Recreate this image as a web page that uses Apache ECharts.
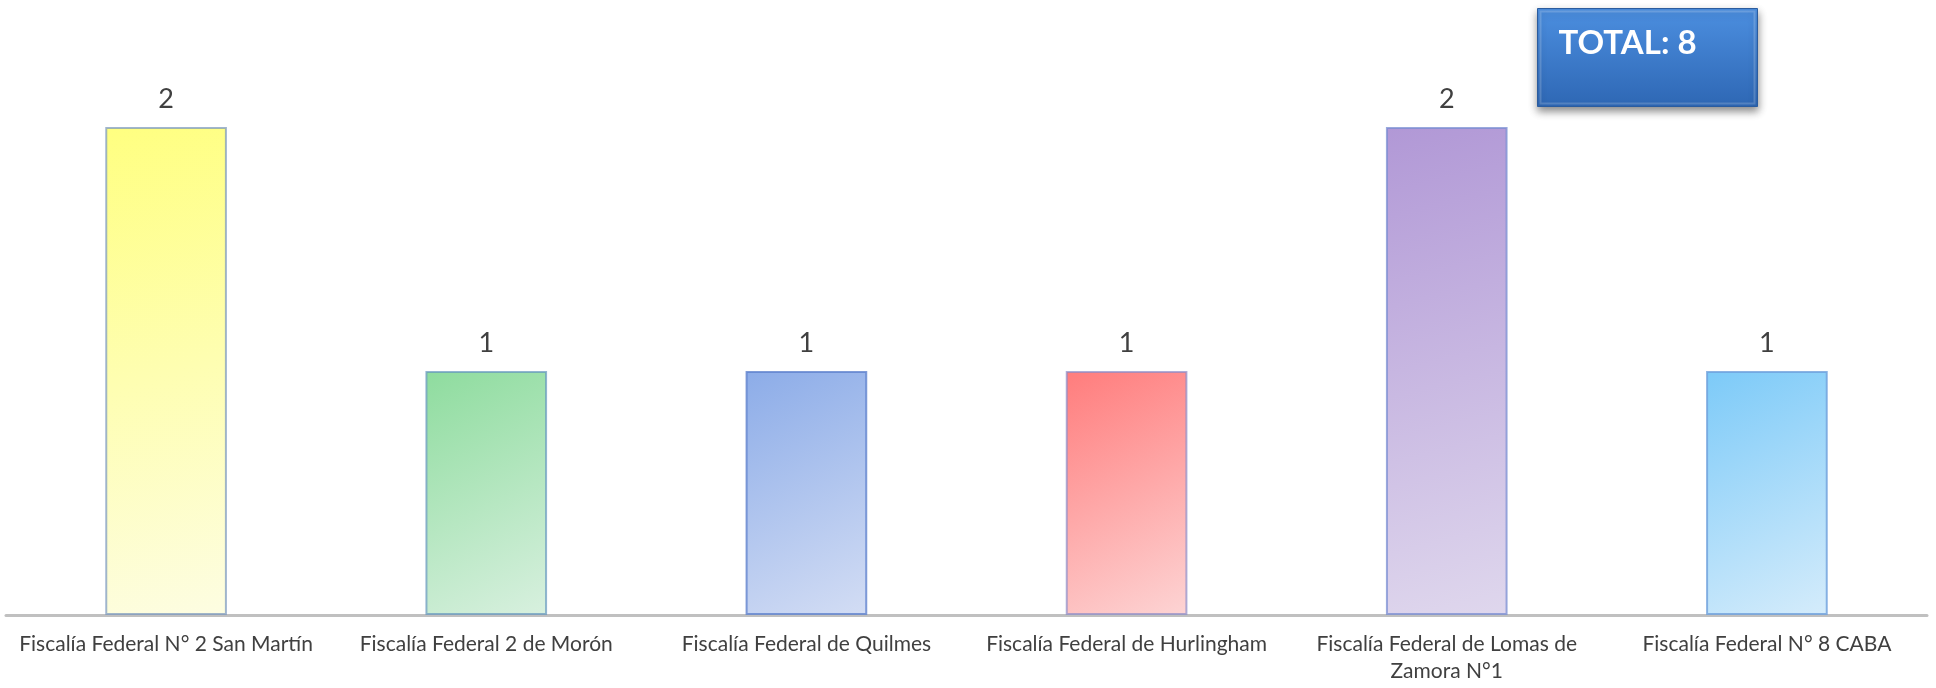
<!DOCTYPE html>
<html>
<head>
<meta charset="utf-8">
<title>Fiscalías</title>
<script src="https://cdn.jsdelivr.net/npm/echarts@6/dist/echarts.min.js"></script>
<style>
  html, body { margin: 0; padding: 0; background: #fff; }
  #chart { width: 1936px; height: 688px; }
</style>
</head>
<body>
<div id="chart"></div>
<script>
const categories = [
  "Fiscalía Federal N° 2 San Martín",
  "Fiscalía Federal 2 de Morón",
  "Fiscalía Federal de Quilmes",
  "Fiscalía Federal de Hurlingham",
  "Fiscalía Federal de Lomas de Zamora N°1",
  "Fiscalía Federal N° 8 CABA",
];
const values = [2, 1, 1, 1, 2, 1];
// top-left colour, bottom-right colour, edge glow
const barColors = [
  ["#ffff80", "#fdfde2", "rgba(120,150,190,0.7)"],
  ["#8edc9e", "#d8f0df", "rgba(100,150,190,0.7)"],
  ["#8cace8", "#d3ddf4", "rgba(95,130,205,0.8)"],
  ["#ff7c7c", "#fdd4d4", "rgba(140,140,200,0.7)"],
  ["#b198d6", "#dfd7ed", "rgba(120,140,210,0.75)"],
  ["#7ccaf8", "#d5ecfb", "rgba(110,160,220,0.8)"],
];
const total = values.reduce((a, b) => a + b, 0);

// wrap long names by words, like the spreadsheet does
function wrap(name, max) {
  const lines = [];
  let cur = "";
  name.split(" ").forEach((w) => {
    if (cur && (cur + " " + w).length > max) {
      lines.push(cur);
      cur = w;
    } else {
      cur = cur ? cur + " " + w : w;
    }
  });
  lines.push(cur);
  return lines.join("\n");
}

const chart = echarts.init(document.getElementById("chart"));
let option = {
  backgroundColor: "#ffffff",
  textStyle: { fontFamily: "Lato" },
  grid: {
    left: 6,
    right: 9,
    top: 127,
    bottom: 73,
  },
  xAxis: {
    type: "category",
    data: categories,
    axisLine: { lineStyle: { color: "#c0c0c0", width: 3 } },
    axisTick: { show: false },
    axisLabel: {
      interval: 0,
      color: "#404040",
      fontSize: 21,
      lineHeight: 27,
      margin: 16,
      hideOverlap: false,
      formatter: (v) => wrap(v, 33),
    },
  },
  yAxis: {
    type: "value",
    min: 0,
    max: 2,
    show: false,
    splitLine: { show: false },
  },
  series: [
    {
      type: "bar",
      barWidth: "38%",
      data: values.map((v, i) => ({
        value: v,
        itemStyle: {
          color: new echarts.graphic.LinearGradient(0, 0, 1, 1, [
            { offset: 0, color: barColors[i][0] },
            { offset: 1, color: barColors[i][1] },
          ]),
          borderColor: barColors[i][2],
          borderWidth: 2,
        },
      })),
      label: {
        show: true,
        position: "top",
        distance: 14,
        color: "#404040",
        fontSize: 27,
      },
    },
  ],
  graphic: [
    {
      type: "group",
      left: 1537,
      top: 8,
      children: [
        {
          type: "rect",
          shape: { x: 0, y: 0, width: 220, height: 98 },
          style: {
            fill: new echarts.graphic.LinearGradient(0, 0, 0, 1, [
              { offset: 0, color: "#4c8fe0" },
              { offset: 1, color: "#2e67b4" },
            ]),
            stroke: "#2b5c9e",
            lineWidth: 1,
            shadowBlur: 8,
            shadowOffsetY: 4,
            shadowColor: "rgba(0,0,0,0.45)",
          },
        },
        {
          type: "rect",
          shape: { x: 3, y: 3, width: 214, height: 92 },
          style: {
            fill: "none",
            stroke: "rgba(255,255,255,0.18)",
            lineWidth: 2,
          },
        },
        {
          type: "text",
          x: 21,
          y: 35,
          style: {
            text: "TOTAL: " + total,
            fill: "#ffffff",
            font: "bold 33px Lato",
            textVerticalAlign: "middle",
          },
        },
      ],
    },
  ],
};
chart.setOption(option);
</script>
</body>
</html>
